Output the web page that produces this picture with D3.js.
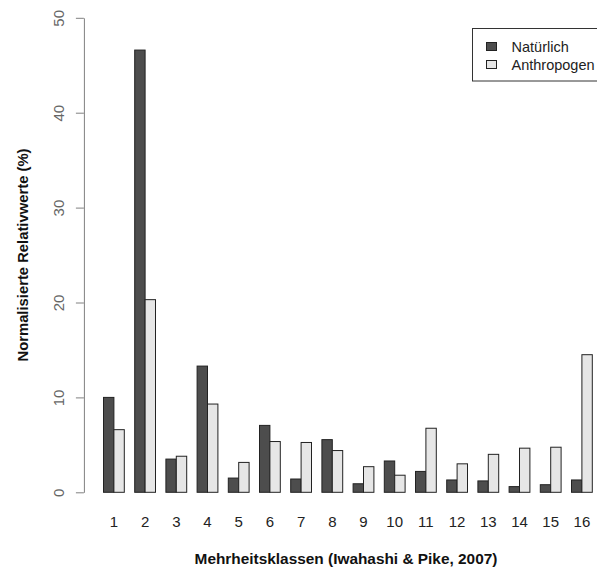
<!DOCTYPE html>
<html lang="de">
<head>
    <meta charset="UTF-8">
    <title>Mehrheitsklassen</title>
    <script src="https://d3js.org/d3.v7.min.js"></script>
    <style>
      body { margin: 0; background: #fff; }
      svg { display: block; font-family: "Liberation Sans", Arial, sans-serif; }
    </style>
</head>
<body>
    <svg width="597" height="570"></svg>
    <script>
        // Werte
        const klassen = ["1","2","3","4","5","6","7","8","9","10","11","12","13","14","15","16"];
        const serien = ["Natürlich", "Anthropogen"];
        const natuerlich  = [10.0, 46.6, 3.5, 13.3, 1.5, 7.05, 1.4, 5.55, 0.9, 3.3, 2.2, 1.3, 1.2, 0.6, 0.8, 1.3];
        const anthropogen = [6.6, 20.3, 3.8, 9.3, 3.15, 5.35, 5.25, 4.4, 2.7, 1.8, 6.75, 3.0, 4.0, 4.65, 4.75, 14.5];
        const yTicks = [0, 10, 20, 30, 40, 50];
        const farben = ["#4d4d4d", "#e6e6e6"];

        const svg = d3.select("svg");
        const axisX = 83.9;   // linker Rand der Plotregion

        const x = d3.scaleBand().domain(klassen).range([103.5, 592.3]).paddingInner(1/3).paddingOuter(0);
        const x1 = d3.scaleBand().domain(serien).range([0, x.bandwidth()]);
        const y = d3.scaleLinear().domain([0, 50]).range([492.3, 17.8]);

        const rows = klassen.map((k, i) => ({ k: k, werte: [natuerlich[i], anthropogen[i]] }));

        // Balken
        const grp = svg.append("g").selectAll("g").data(rows).enter().append("g")
            .attr("transform", d => `translate(${x(d.k)},0)`);
        grp.selectAll("rect").data(d => d.werte.map((v, j) => ({ s: serien[j], v: v, j: j })))
            .enter().append("rect")
            .attr("x", d => x1(d.s))
            .attr("y", d => y(d.v))
            .attr("width", x1.bandwidth())
            .attr("height", d => y(0) - y(d.v))
            .attr("fill", d => farben[d.j])
            .attr("stroke", "#222")
            .attr("stroke-width", 1);

        // y-Achse
        const yAxis = svg.append("g")
            .attr("transform", `translate(${axisX},0)`)
            .call(d3.axisLeft(y).tickValues(yTicks).tickSize(8).tickSizeOuter(0));
        yAxis.selectAll("path, line").attr("stroke", "#808080");
        yAxis.selectAll("text")
            .attr("transform", "rotate(-90)")
            .attr("x", 0).attr("y", -20).attr("dy", 0)
            .attr("text-anchor", "middle")
            .attr("fill", "#666")
            .style("font-size", "15px")
            .style("font-family", "'Liberation Sans', Arial, sans-serif");

        // Klassenbeschriftung
        svg.append("g").selectAll("text").data(klassen).enter().append("text")
            .attr("x", d => x(d) + x.bandwidth() / 2)
            .attr("y", 527)
            .attr("text-anchor", "middle")
            .attr("fill", "#222")
            .style("font-size", "15px")
            .text(d => d);

        // Achsentitel
        svg.append("text")
            .attr("x", 346).attr("y", 564)
            .attr("text-anchor", "middle")
            .style("font-size", "15.4px").style("font-weight", "bold")
            .attr("fill", "#111")
            .text("Mehrheitsklassen (Iwahashi & Pike, 2007)");

        svg.append("text")
            .attr("transform", "translate(28,255) rotate(-90)")
            .attr("text-anchor", "middle")
            .style("font-size", "14.8px").style("font-weight", "bold")
            .attr("fill", "#111")
            .text("Normalisierte Relativwerte (%)");

        // Legende
        const leg = svg.append("g");
        leg.append("rect").attr("x", 472.5).attr("y", 28.5).attr("width", 140).attr("height", 52.5)
            .attr("fill", "#fff").attr("stroke", "#333");
        const legItems = leg.selectAll("g.item").data(serien).enter().append("g").attr("class", "item")
            .attr("transform", (d, i) => `translate(0,${i * 18})`);
        legItems.append("rect")
            .attr("x", 486.5).attr("y", 42.5).attr("width", 10).attr("height", 8)
            .attr("fill", (d, i) => farben[i]).attr("stroke", "#222");
        legItems.append("text")
            .attr("x", 511.5).attr("y", 52)
            .attr("fill", "#222")
            .style("font-size", "14.5px")
            .text(d => d);
    </script>
</body>
</html>
